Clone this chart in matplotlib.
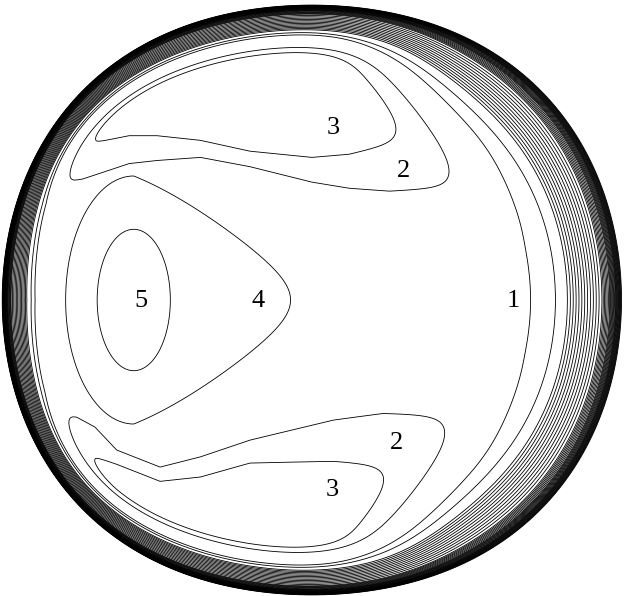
import numpy as np
import matplotlib
matplotlib.use("Agg")
import matplotlib.pyplot as plt

# wall radius R(t) = c0 + c2*cos(2t) + c4*cos(4t), unit = half width
wall_c0, wall_c2, wall_c4 = 0.988, 0.024, -0.012

# thickness of the wall layer: w_min + (w_max - w_min) * step(cos t),
# thinner near the lobe tips on the left
w_min, w_max, w_mid, w_soft = 0.47, 1.0, 0.45, 0.25
w_dip, w_dip_at, w_dip_width = 0.12, 145.0, 25.0

# value across the wall layer (scaled wall distance -> value)
prof_d = [0.0, 0.008, 0.022, 0.040, 0.065, 0.177, 0.216, 0.297, 0.40, 10.0]
prof_f = [0.0, 0.125, 0.325, 0.50, 0.65, 0.95, 0.975, 1.0, 1.05, 1.05]

# taper of the inner structures towards the wall layer
taper_mid, taper_soft = 0.31, 0.022

wall_levels = np.arange(0.025, 0.99, 0.025)
inner_levels = [1.0, 2.0, 3.0]

# upper lobe: inner edges of the "3" and "2" curves, and their right ends
up_u = [-0.85, -0.74, -0.59, -0.50, -0.36, -0.20, 0.00, 0.12, 0.25, 0.45]
up_e3 = [0.50, 0.50, 0.53, 0.53, 0.515, 0.48, 0.46, 0.47, 0.50, 0.55]
up_e2 = [0.37, 0.39, 0.44, 0.45, 0.46, 0.43, 0.38, 0.36, 0.35, 0.36]
up_cap3 = (0.27, 0.56)
up_cap2 = (0.37, 0.57)

# lower lobe (distances below the axis)
low_u = [-0.85, -0.76, -0.70, -0.63, -0.49, -0.36, -0.20, 0.07, 0.23, 0.45]
low_e3 = [0.50, 0.50, 0.506, 0.53, 0.585, 0.571, 0.526, 0.52, 0.53, 0.55]
low_e2 = [0.36, 0.377, 0.41, 0.484, 0.539, 0.506, 0.452, 0.387, 0.365, 0.37]
low_cap3 = (0.23, 0.59)
low_cap2 = (0.28, 0.68)
lobe_amp = 2.6
lobe_stop = 0.58   # nothing of the lobes right of this

# left core: inner oval ("5") and the loop around it ("4")
core_u, core_v = -0.575, 0.0
oval_ax, oval_ay = 0.118, 0.228
loop_left, loop_half, loop_tip = 0.22, 0.40, 0.51
loop_narrow = 1.0

labels = ["1", "2", "3", "4", "5", "2", "3"]
lab_u = [0.648, 0.294, 0.068, -0.174, -0.552, 0.274, 0.065]
lab_v = [-0.003, 0.416, 0.556, -0.003, -0.003, -0.460, -0.613]


def logistic(z):
    return 1.0 / (1.0 + np.exp(-z))


base_in = prof_f[-1]
g3 = inner_levels[2] - base_in
g2 = inner_levels[1] - base_in
z3 = np.log(g3 / (lobe_amp - g3))
z2 = np.log(g2 / (lobe_amp - g2))


def band(uu, vv, eu, e3, e2):
    e3i = np.interp(uu, eu, e3)
    e2i = np.interp(uu, eu, e2)
    sh = (e3i - e2i) / (z3 - z2)
    vh = e3i - z3 * sh
    return logistic((vv - vh) / sh)


def lobe(uu, vv, eu, e3, e2, cap3, cap2):
    # right end: logistic cut along u + 0.9 v through the two end points
    h3 = band(cap3[0], cap3[1], eu, e3, e2)
    h2 = band(cap2[0], cap2[1], eu, e3, e2)
    k3 = g3 / (lobe_amp * h3)
    k2 = g2 / (lobe_amp * h2)
    s3 = cap3[0] + 0.9 * cap3[1]
    s2 = cap2[0] + 0.9 * cap2[1]
    q3 = np.log(1 / k3 - 1)
    q2 = np.log(1 / k2 - 1)
    ss = (s2 - s3) / (q2 - q3)
    sc = s3 - q3 * ss
    cap = 1.0 / (1.0 + np.exp((uu + 0.9 * vv - sc) / ss))
    # keep each lobe on its own side of the axis and off the right wall
    side = logistic((vv - 0.2) / 0.03) * logistic((lobe_stop - uu) / 0.03)
    return lobe_amp * band(uu, vv, eu, e3, e2) * cap * side


n = 1600
x = np.linspace(-1.01, 1.01, n)
y = np.linspace(-0.97, 0.98, n)
U, V = np.meshgrid(x, y)
r = np.hypot(U, V)
t = np.arctan2(V, U)
R = wall_c0 + wall_c2 * np.cos(2 * t) + wall_c4 * np.cos(4 * t)
dist = 1 - r / R
w = w_min + (w_max - w_min) * 0.5 * (1 + np.tanh((np.cos(t) - w_mid) / w_soft))
w = w - w_dip * np.exp(-((np.degrees(np.abs(t)) - w_dip_at) / w_dip_width) ** 2)
ds = dist / w

base = np.interp(ds, prof_d, prof_f)
outer = logistic((ds - taper_mid) / taper_soft)

upper = lobe(U, V, up_u, up_e3, up_e2, up_cap3, up_cap2)
lower = lobe(U, -V, low_u, low_e3, low_e2, low_cap3, low_cap2)

# inner oval: steep bump, only its "3" level matters
xc = U - core_u
vc = V - core_v
oval_amp = 10.0
q5 = np.log(oval_amp / g3)
oval = oval_amp * np.exp(-q5 * ((xc / oval_ax) ** 2 + (vc / oval_ay) ** 2))

# surrounding loop: rounded on the left, narrowing to a tip on the right
loop_amp = 1.5
q4 = np.log(loop_amp / g2)
half = loop_half * np.clip(1 - loop_narrow * np.clip(xc, 0, None), 0.05, None)
reach = np.where(xc < 0, loop_left, loop_tip)
loop = loop_amp * np.exp(-q4 * ((xc / reach) ** 2 + (vc / half) ** 2))
loop = loop * logistic((0.75 - xc) / 0.05)

F = base + outer * np.maximum.reduce([upper, lower, oval, loop])

fig = plt.figure(figsize=(6.24, 5.96), dpi=100)
ax = fig.add_axes([0, 0, 1, 1])
ax.contour(U, V, F, levels=np.concatenate([wall_levels, inner_levels]),
           colors="k", linewidths=0.6)
for s, lu, lv in zip(labels, lab_u, lab_v):
    ax.text(lu, lv, s, ha="center", va="center", fontsize=19,
            family="Liberation Serif")
ax.set_xlim(-312 / 310, 312 / 310)
ax.set_ylim(-296 / 310, 300 / 310)
ax.set_aspect("equal")
ax.axis("off")
fig.savefig("out.png", dpi=100)
